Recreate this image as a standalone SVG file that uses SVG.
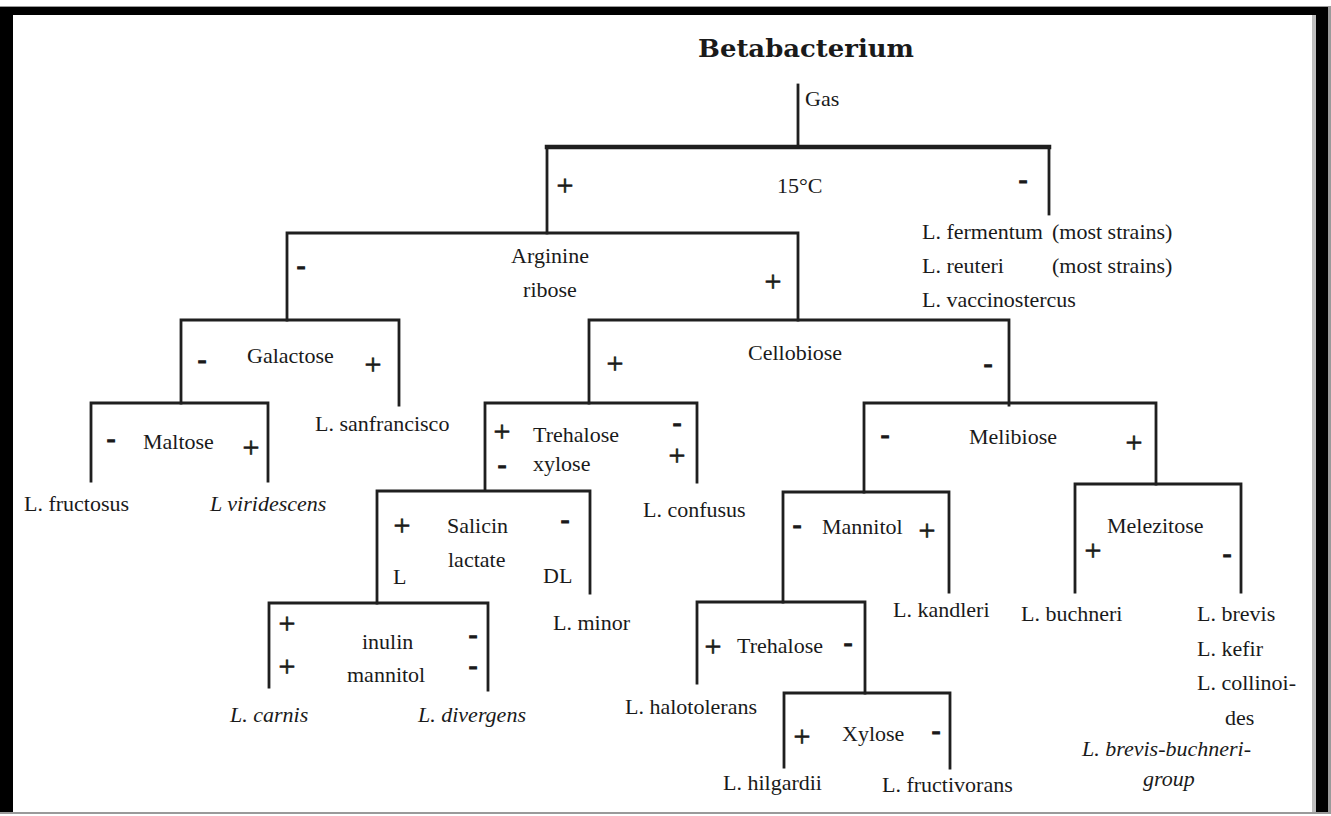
<svg xmlns="http://www.w3.org/2000/svg" width="1331" height="816" viewBox="0 0 1331 816">
<style>
text{font-family:"Liberation Serif","Times New Roman",serif;font-size:22px;fill:#1a1a1a}
.it{font-style:italic}
.p{font-size:30px;text-anchor:middle;stroke:#1a1a1a;stroke-width:0.7}
.m{font-size:26px;font-weight:bold;text-anchor:middle;stroke:#1a1a1a;stroke-width:1.2}
.title{font-family:"DejaVu Serif",serif;font-weight:bold;font-size:25px}
.c line,.c path{stroke:#1f1f1f;stroke-width:2.8;fill:none;stroke-linecap:square}
</style>
<rect x="0" y="0" width="1331" height="816" fill="#ffffff"/>
<g id="frame">
<rect x="0" y="6" width="1329" height="1.5" fill="#9a9a9a"/>
<rect x="0" y="7" width="1328" height="8" fill="#000"/>
<rect x="0" y="7" width="13" height="807" fill="#000"/>
<rect x="1316" y="7" width="12" height="807" fill="#000"/>
<rect x="1312" y="15" width="4" height="799" fill="#bdbdbd"/>
<rect x="0" y="812" width="1331" height="2" fill="#9a9a9a"/>
<rect x="1328" y="6" width="3" height="808" fill="#9a9a9a"/>
</g>
<g id="title"><text class="title" x="698" y="57" textLength="216" lengthAdjust="spacingAndGlyphs">Betabacterium</text></g>
<g class="c" id="connectors">
<line x1="798" y1="85" x2="798" y2="147"/>
<line x1="547" y1="147" x2="1049" y2="147" style="stroke-width:4.5"/>
<line x1="547" y1="147" x2="547" y2="233"/>
<line x1="1049" y1="147" x2="1049" y2="214"/>
<path d="M287 320 V233 H798 V320"/>
<path d="M181 403 V320 H399 V405"/>
<path d="M589 403 V320 H1009 V405"/>
<path d="M91 481 V403 H268 V481"/>
<path d="M485 490 V403 H697 V482"/>
<path d="M864 492 V403 H1156 V484"/>
<path d="M377 603 V491 H590 V593"/>
<path d="M783 602 V492 H949 V592"/>
<path d="M1075 592 V484 H1241 V592"/>
<path d="M269 687 V603 H488 V690"/>
<path d="M697 683 V602 H865 V693"/>
<path d="M784 767 V693 H950 V768"/>
</g>
<g id="gas"><text x="805" y="106">Gas</text></g>
<g id="temp15">
<text class="p" x="565" y="195">+</text>
<text x="777" y="193">15°C</text>
<text class="m" x="1023" y="188">-</text>
</g>
<g id="fermentum">
<text x="922" y="239">L. fermentum</text><text x="1052" y="239">(most strains)</text>
<text x="922" y="273">L. reuteri</text><text x="1052" y="273">(most strains)</text>
<text x="922" y="307">L. vaccinostercus</text>
</g>
<g id="arginine">
<text class="m" x="301" y="274">-</text>
<text x="550" y="263" text-anchor="middle">Arginine</text>
<text x="550" y="297" text-anchor="middle">ribose</text>
<text class="p" x="773" y="291">+</text>
</g>
<g id="galactose">
<text class="m" x="202" y="368">-</text>
<text x="247" y="363">Galactose</text>
<text class="p" x="373" y="374">+</text>
</g>
<g id="sanfrancisco"><text x="315" y="431">L. sanfrancisco</text></g>
<g id="cellobiose">
<text class="p" x="615" y="373">+</text>
<text x="748" y="360">Cellobiose</text>
<text class="m" x="988" y="372">-</text>
</g>
<g id="maltose">
<text class="m" x="111" y="447">-</text>
<text x="143" y="449">Maltose</text>
<text class="p" x="251" y="457">+</text>
</g>
<g id="fructosus"><text x="24" y="511">L. fructosus</text></g>
<g id="viridescens"><text class="it" x="210" y="511">L viridescens</text></g>
<g id="trehalose-xylose">
<text class="p" x="502" y="441">+</text>
<text x="533" y="442">Trehalose</text>
<text class="m" x="677" y="431">-</text>
<text class="m" x="502" y="473">-</text>
<text x="533" y="471">xylose</text>
<text class="p" x="677" y="465">+</text>
</g>
<g id="confusus"><text x="643" y="517">L. confusus</text></g>
<g id="melibiose">
<text class="m" x="885" y="443">-</text>
<text x="969" y="444">Melibiose</text>
<text class="p" x="1134" y="452">+</text>
</g>
<g id="salicin">
<text class="p" x="402" y="535">+</text>
<text x="447" y="533">Salicin</text>
<text class="m" x="565" y="528">-</text>
<text x="393" y="584">L</text>
<text x="448" y="567">lactate</text>
<text x="543" y="583">DL</text>
</g>
<g id="minor"><text x="553" y="630">L. minor</text></g>
<g id="mannitol">
<text class="m" x="797" y="533">-</text>
<text x="822" y="534">Mannitol</text>
<text class="p" x="927" y="540">+</text>
</g>
<g id="kandleri"><text x="893" y="617">L. kandleri</text></g>
<g id="melezitose">
<text x="1107" y="533">Melezitose</text>
<text class="p" x="1093" y="560">+</text>
<text class="m" x="1227" y="562">-</text>
</g>
<g id="buchneri"><text x="1021" y="621">L. buchneri</text></g>
<g id="brevis-group">
<text x="1197" y="621">L. brevis</text>
<text x="1197" y="656">L. kefir</text>
<text x="1197" y="690">L. collinoi-</text>
<text x="1225" y="725">des</text>
<text class="it" x="1082" y="756">L. brevis-buchneri-</text>
<text class="it" x="1143" y="786">group</text>
</g>
<g id="inulin">
<text class="p" x="287" y="633">+</text>
<text x="362" y="649">inulin</text>
<text class="m" x="473" y="643">-</text>
<text class="p" x="287" y="676">+</text>
<text x="347" y="682">mannitol</text>
<text class="m" x="473" y="674">-</text>
</g>
<g id="carnis"><text class="it" x="230" y="722">L. carnis</text></g>
<g id="divergens"><text class="it" x="418" y="722">L. divergens</text></g>
<g id="trehalose2">
<text class="p" x="713" y="656">+</text>
<text x="737" y="653">Trehalose</text>
<text class="m" x="848" y="651">-</text>
</g>
<g id="halotolerans"><text x="625" y="714">L. halotolerans</text></g>
<g id="xylose2">
<text class="p" x="802" y="746">+</text>
<text x="842" y="741">Xylose</text>
<text class="m" x="936" y="739">-</text>
</g>
<g id="hilgardii"><text x="723" y="790">L. hilgardii</text></g>
<g id="fructivorans"><text x="882" y="792">L. fructivorans</text></g>
</svg>
